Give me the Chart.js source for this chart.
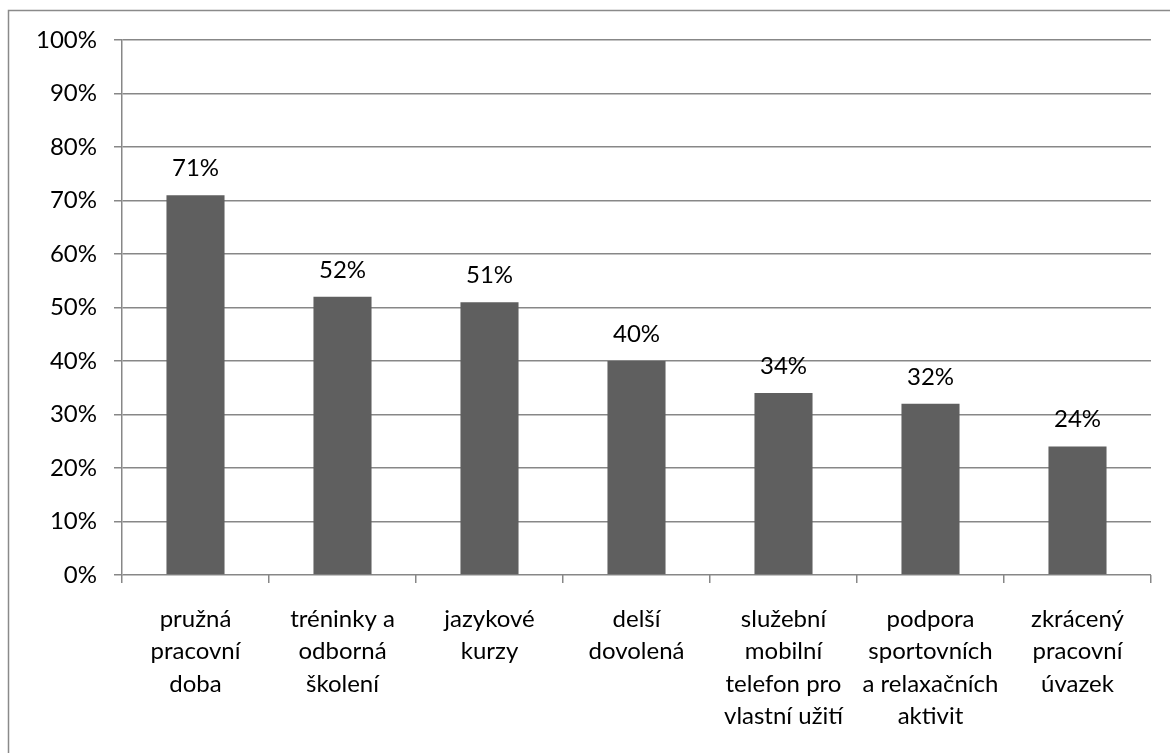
<!DOCTYPE html>
<html>
<head>
<meta charset="utf-8">
<script src="https://cdn.jsdelivr.net/npm/chart.js@4/dist/chart.umd.min.js"></script>
<style>
  html, body { margin: 0; padding: 0; background: #ffffff; }
  #wrap { position: relative; width: 1170px; height: 753px; }
</style>
</head>
<body>
<div id="wrap"><canvas id="c" width="1170" height="753"></canvas></div>
<script>
// Benefity – podíl odpovědí
const categories = [
  ['pružná', 'pracovní', 'doba'],
  ['tréninky a', 'odborná', 'školení'],
  ['jazykové', 'kurzy'],
  ['delší', 'dovolená'],
  ['služební', 'mobilní', 'telefon pro', 'vlastní užití'],
  ['podpora', 'sportovních', 'a relaxačních', 'aktivit'],
  ['zkrácený', 'pracovní', 'úvazek']
];
const values = [71, 52, 51, 40, 34, 32, 24];
const yTicks = [0, 10, 20, 30, 40, 50, 60, 70, 80, 90, 100];

const FONT = 'Lato, "Open Sans", sans-serif';
const FONT_SIZE = 24;
const GRID = '#878787';
const BAR = '#5f5f5f';

// outer frame around the whole chart
const framePlugin = {
  id: 'frame',
  beforeDraw(chart) {
    const ctx = chart.ctx;
    ctx.save();
    ctx.strokeStyle = '#8a8a8a';
    ctx.lineWidth = 1.5;
    ctx.strokeRect(8.5, 10.5, 1200, 800);
    ctx.restore();
  }
};

// value labels above each bar
const valueLabels = {
  id: 'valueLabels',
  afterDatasetsDraw(chart) {
    const ctx = chart.ctx;
    const meta = chart.getDatasetMeta(0);
    ctx.save();
    ctx.font = FONT_SIZE + 'px ' + FONT;
    ctx.fillStyle = '#000000';
    ctx.textAlign = 'center';
    ctx.textBaseline = 'middle';
    meta.data.forEach((bar, i) => {
      ctx.fillText(values[i] + '%', bar.x, bar.y - 27);
    });
    ctx.restore();
  }
};

new Chart(document.getElementById('c'), {
  type: 'bar',
  data: {
    labels: categories,
    datasets: [{
      data: values,
      backgroundColor: BAR,
      borderWidth: 0,
      barPercentage: 0.395,
      categoryPercentage: 1.0
    }]
  },
  options: {
    responsive: false,
    animation: false,
    devicePixelRatio: 1,
    layout: { padding: { left: 0, right: 19, top: 40, bottom: 0 } },
    plugins: {
      legend: { display: false },
      tooltip: { enabled: false }
    },
    scales: {
      x: {
        grid: {
          display: true,
          drawOnChartArea: false,
          drawTicks: true,
          tickLength: 8,
          color: GRID,
          lineWidth: 1.5,
          offset: true
        },
        border: { display: false },
        ticks: {
          color: '#000000',
          font: { family: FONT, size: FONT_SIZE, lineHeight: 32.5 / FONT_SIZE },
          maxRotation: 0,
          minRotation: 0,
          autoSkip: false,
          padding: 20
        },
        afterFit(scale) { scale.height = 753 - 575; }
      },
      y: {
        min: 0,
        max: 100,
        afterBuildTicks(scale) { scale.ticks = yTicks.map(v => ({ value: v })); },
        grid: {
          color: GRID,
          lineWidth: 1.5,
          tickLength: 8,
          drawTicks: true
        },
        border: { display: true, color: GRID, width: 1.5 },
        ticks: {
          color: '#000000',
          font: { family: FONT, size: FONT_SIZE },
          padding: 17,
          callback: v => v + '%'
        },
        afterFit(scale) { scale.width = 122; }
      }
    }
  },
  plugins: [framePlugin, valueLabels]
});
</script>
</body>
</html>
